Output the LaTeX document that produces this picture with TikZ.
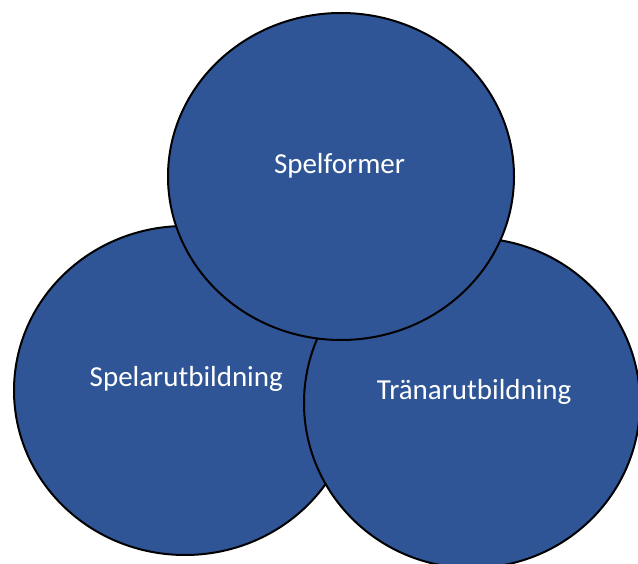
\documentclass[tikz,border=0pt]{standalone}
\usepackage{fontspec}
\setmainfont{Carlito}
\usetikzlibrary{shapes.geometric}
\definecolor{circblue}{RGB}{47,85,151}
\begin{document}
\begin{tikzpicture}[x=1pt,y=1pt,
  bubble/.style={ellipse, draw=black, line width=2pt, fill=circblue, inner sep=0pt, outer sep=0pt},
  lbl/.style={text=white, anchor=base, inner sep=0pt, font=\fontsize{29}{32}\selectfont}]
\useasboundingbox (0,0) rectangle (638,563);
\node[bubble, minimum width=342, minimum height=329] (left) at (185,172.5) {};
\node[bubble, minimum width=336, minimum height=330] (right) at (472,160) {};
\node[bubble, minimum width=346, minimum height=327] (top) at (341,386.5) {};
\node[lbl] (t1) at (339.5,389.7) {Spelformer};
\node[lbl] (t2) at (186.3,176.3) {Spelarutbildning};
\node[lbl] (t3) at (474.2,163) {Tränarutbildning};
\end{tikzpicture}
\end{document}
